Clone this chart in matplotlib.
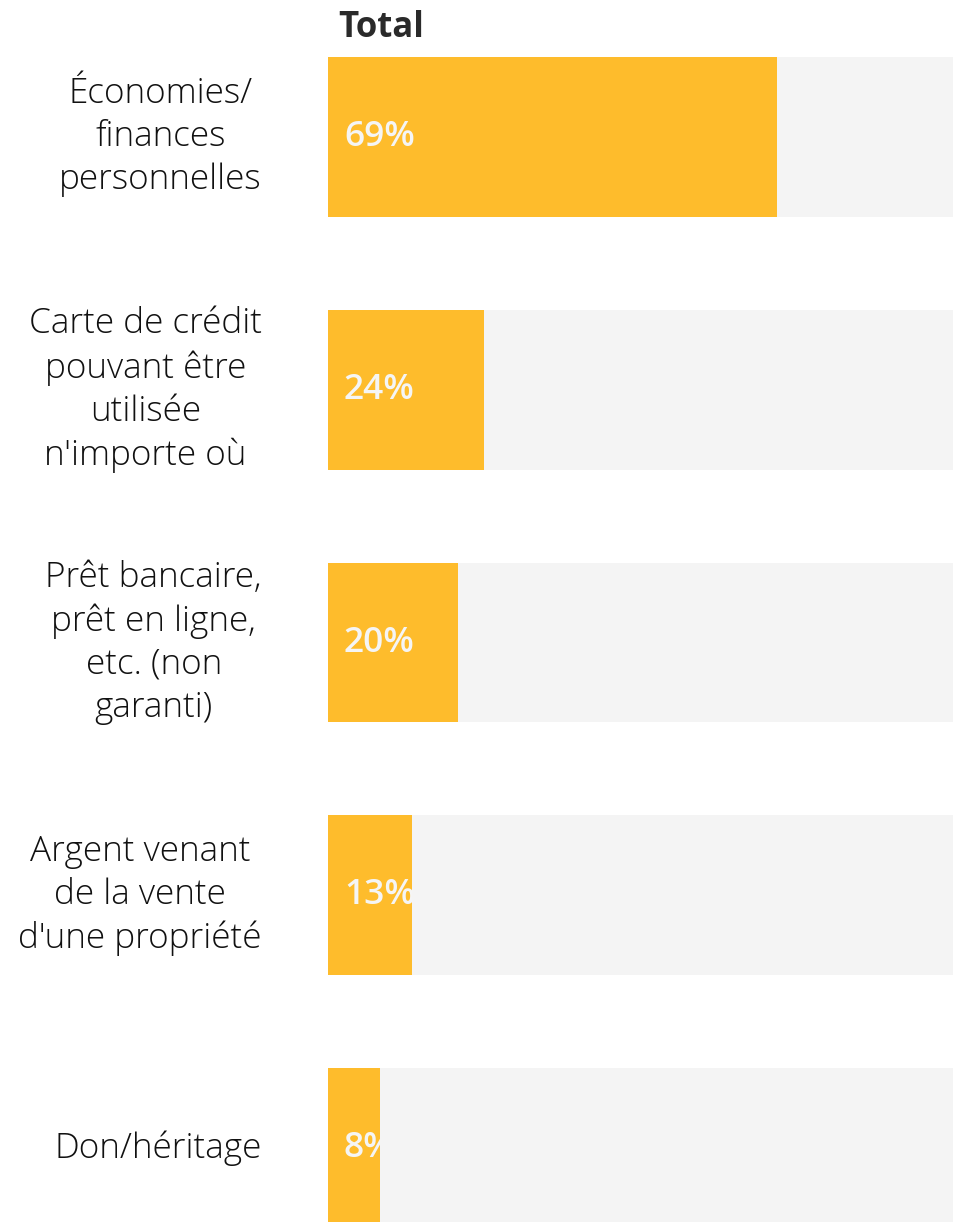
import matplotlib
matplotlib.use("Agg")
import matplotlib.pyplot as plt

categories = [
    "Économies/\nfinances\npersonnelles",
    "Carte de crédit\npouvant être\nutilisée\nn'importe où",
    "Prêt bancaire,\nprêt en ligne,\netc. (non\ngaranti)",
    "Argent venant\nde la vente\nd'une propriété",
    "Don/héritage",
]
values = [69, 24, 20, 13, 8]
value_labels = ["69%", "24%", "20%", "13%", "8%"]
title = "Total"

BAR = "#FEBC2C"
TRACK = "#F4F4F4"

plt.rcParams['font.family'] = ['Open Sans', 'DejaVu Sans']

W, H = 954, 1222
fig = plt.figure(figsize=(W / 100, H / 100), dpi=100)
ax = fig.add_axes([328 / W, 0, (W - 328) / W, 1])

pos = list(range(len(values)))
ax.barh(pos, [100] * len(values), height=0.632, color=TRACK, zorder=1)
bars = ax.barh(pos, values, height=0.632, color=BAR, zorder=2)

ax.set_xlim(0, 626 / 6.5)
ax.set_ylim(4 + 74 / 252.75, -137 / 252.75)
ax.axis("off")

for b, lab in zip(bars, value_labels):
    t = ax.annotate(lab, (0, b.get_y() + b.get_height() / 2), xytext=(11.5, 0),
                    textcoords="offset points", ha="left", va="center",
                    fontsize=25.5, fontweight="semibold", color="#F5F5F5", zorder=3)
    t.set_clip_path(b)

for p, cat in zip(pos, categories):
    ax.annotate(cat, (0, p), xytext=(-66 * 0.72, 0), textcoords="offset points",
                ha="right", va="center", multialignment="center",
                fontsize=25.3, fontweight="light", color="#111111", linespacing=1.32,
                annotation_clip=False)

fig.text(338 / W, 1 - 28 / H, title, ha="left", va="center",
         fontsize=25, fontweight="bold", color="#2A2A2A")

fig.savefig("out.png", dpi=100)
